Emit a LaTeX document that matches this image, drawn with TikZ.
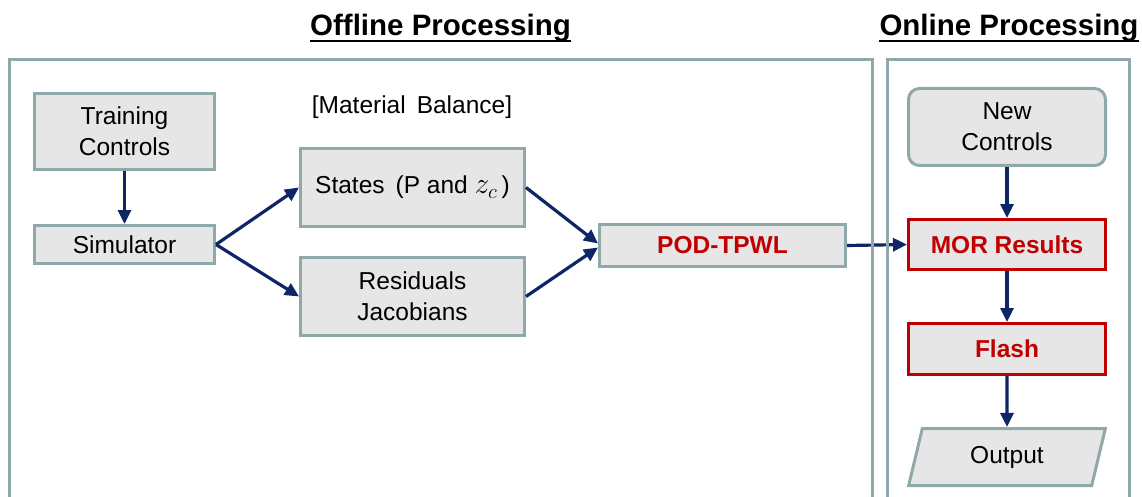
\documentclass[tikz,border=0pt]{standalone}
\usepackage{fontspec}
\usepackage{graphicx}
\setmainfont{Liberation Sans}
\usetikzlibrary{arrows.meta,shapes.geometric}

\definecolor{boxfill}{HTML}{E6E6E6}
\definecolor{boxline}{HTML}{8FA8AA}
\definecolor{navy}{HTML}{0F2666}
\definecolor{hotred}{HTML}{C00000}

\tikzset{
  body/.style={font=\fontsize{24.5}{31}\selectfont},
  stepbox/.style={body, draw=boxline, fill=boxfill, line width=3pt,
    inner sep=0pt, align=center},
  keybox/.style={stepbox, draw=hotred, text=hotred, font=\fontsize{24.5}{31}\selectfont\bfseries},
  flow/.style={draw=navy, line width=3.2pt,
    -{Triangle[length=14pt,width=13pt]}},
  frame/.style={draw=boxline, line width=3pt},
  heading/.style={font=\fontsize{29.5}{34}\selectfont\bfseries, inner sep=0pt, anchor=base},
}

\begin{document}
\begin{tikzpicture}[x=1pt,y=-1pt]
\useasboundingbox (0,0) rectangle (1142,497);

% section headings, underlined
\node[heading] (offt) at (440.5,36) {Offline Processing};
\node[heading] (onlt) at (1009,36) {Online Processing};
\draw[line width=2.6pt] ([yshift=-5pt]offt.base west) -- ([yshift=-5pt]offt.base east);
\draw[line width=2.6pt] ([yshift=-5pt]onlt.base west) -- ([yshift=-5pt]onlt.base east);

% offline stage
\node[stepbox, minimum width=180pt, minimum height=76pt] (tc) at (124.5,131.5) {Training\\Controls};
\node[stepbox, minimum width=180pt, minimum height=38pt] (sim) at (124.5,244.5) {Simulator};
\node[body] (mb) at (412,107) {[Material\hspace{0.45em}Balance]};
\node[stepbox, minimum width=224pt, minimum height=78pt] (st) at (412.5,187.5)
  {States\hspace{0.45em}(P and \scalebox{1.2}{$z_c$}\,)};
\node[stepbox, minimum width=224pt, minimum height=78pt] (rj) at (412.5,296.5) {Residuals\\Jacobians};
\node[stepbox, minimum width=246pt, minimum height=42pt, text=hotred,
      font=\fontsize{24.5}{31}\selectfont\bfseries] (pod) at (722.5,245.5) {POD-TPWL};

% online stage
\node[stepbox, rounded corners=11pt, minimum width=197pt, minimum height=77pt] (nc) at (1007,127) {New\\Controls};
\node[keybox, minimum width=197pt, minimum height=50pt] (mor) at (1007,244.5) {MOR Results};
\node[keybox, minimum width=197pt, minimum height=51pt] (fl) at (1007,349) {Flash};
\node[stepbox, shape=trapezium, trapezium left angle=75, trapezium right angle=105,
      trapezium stretches=true, minimum width=197pt, minimum height=57pt] (out) at (1007,457) {Output};

% connectors
\draw[flow] (tc.south) -- (sim.north);
\draw[flow] (sim.east) -- (st.west);
\draw[flow] (sim.east) -- (rj.west);
\draw[flow] (st.east) -- ([yshift=2pt]pod.west);
\draw[flow] (rj.east) -- ([yshift=-2pt]pod.west);
\draw[flow] (pod.east) -- (mor.west);
\draw[flow] (nc.south) -- (mor.north);
\draw[flow] (mor.south) -- (fl.north);
\draw[flow] (fl.south) -- (out.north);

% stage frames, open at the bottom
\draw[frame] (9,505) -- (9,60) -- (872,60) -- (872,505);
\draw[frame] (887,505) -- (887,60) -- (1129,60) -- (1129,505);
\end{tikzpicture}
\end{document}
